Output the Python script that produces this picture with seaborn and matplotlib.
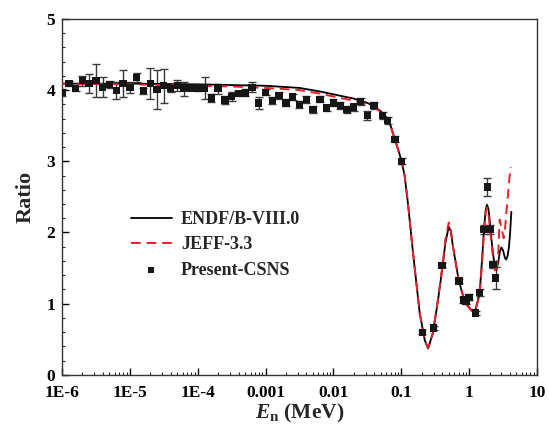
import numpy as np
import pandas as pd
import matplotlib
matplotlib.use("Agg")
import matplotlib.pyplot as plt
import seaborn as sns
from matplotlib.ticker import LogLocator, MultipleLocator, NullFormatter

# ---------------- data ----------------
endf_logE = [-6.0, -5.0, -4.0, -3.5, -3.0, -2.5, -2.2, -1.9, -1.7, -1.5, -1.4, -1.3,
             -1.2, -1.15, -1.1, -1.05, -1.0, -0.95, -0.9, -0.826, -0.728, -0.654,
             -0.605, -0.532, -0.458, -0.384, -0.35, -0.30, -0.27, -0.237, -0.153,
             -0.065, 0.034, 0.083, 0.156, 0.19, 0.219, 0.245, 0.264, 0.285, 0.303,
             0.33, 0.352, 0.38, 0.402, 0.43, 0.455, 0.476, 0.50, 0.53, 0.549, 0.57,
             0.588, 0.605, 0.623]
endf_ratio = [4.09, 4.09, 4.08, 4.07, 4.06, 4.03, 3.98, 3.92, 3.88, 3.82, 3.77, 3.70,
              3.60, 3.48, 3.33, 3.18, 3.02, 2.80, 2.40, 1.71, 0.87, 0.49,
              0.37, 0.59, 1.05, 1.57, 1.85, 2.08, 2.02, 1.80, 1.33,
              1.03, 0.91, 0.87, 1.15, 1.60, 2.04, 2.32, 2.39, 2.33, 2.18,
              1.90, 1.71, 1.52, 1.47, 1.58, 1.74, 1.79, 1.75, 1.64, 1.62, 1.68,
              1.80, 2.00, 2.29]

jeff_logE = [-6.0, -5.0, -4.0, -3.5, -3.0, -2.5, -2.2, -1.9, -1.7, -1.5, -1.4, -1.3,
             -1.2, -1.15, -1.1, -1.05, -1.0, -0.95, -0.9, -0.826, -0.728, -0.654,
             -0.605, -0.532, -0.458, -0.384, -0.35, -0.30, -0.27, -0.237, -0.153,
             -0.065, 0.034, 0.083, 0.156, 0.19, 0.219, 0.245, 0.264, 0.285, 0.303,
             0.33, 0.352, 0.38, 0.40, 0.43, 0.451, 0.48, 0.51, 0.53, 0.549, 0.58,
             0.608, 0.615]
jeff_ratio = [4.09, 4.08, 4.06, 4.05, 4.03, 4.00, 3.95, 3.89, 3.85, 3.80, 3.76, 3.69,
              3.59, 3.47, 3.32, 3.17, 3.01, 2.80, 2.40, 1.71, 0.87, 0.49,
              0.38, 0.60, 1.07, 1.60, 1.90, 2.14, 2.05, 1.80, 1.33,
              1.02, 0.90, 0.88, 1.12, 1.55, 2.00, 2.28, 2.35, 2.26, 2.10,
              1.85, 1.65, 1.47, 1.43, 1.70, 2.18, 2.05, 1.92, 2.05, 2.27, 2.60,
              2.90, 2.92]

csns_E = [1.0e-6, 1.26e-6, 1.58e-6, 2.0e-6, 2.51e-6, 3.16e-6, 3.98e-6, 5.01e-6,
          6.31e-6, 7.94e-6, 1.0e-5, 1.26e-5, 1.58e-5, 2.0e-5, 2.51e-5, 3.16e-5,
          3.98e-5, 5.01e-5, 6.31e-5, 7.94e-5, 1.0e-4, 1.26e-4, 1.58e-4, 2.0e-4,
          2.51e-4, 3.16e-4, 3.98e-4, 5.01e-4, 6.31e-4, 7.94e-4, 1.0e-3, 1.26e-3,
          1.58e-3, 2.0e-3, 2.51e-3, 3.16e-3, 3.98e-3, 5.01e-3, 6.31e-3, 7.94e-3,
          1.0e-2, 1.26e-2, 1.58e-2, 2.0e-2, 2.51e-2, 3.16e-2, 3.98e-2,
          0.053, 0.063, 0.081, 0.102, 0.205, 0.30, 0.40, 0.71, 0.82, 0.90, 1.0,
          1.25, 1.43, 1.66, 1.86, 2.06, 2.25, 2.47]
csns_ratio = [3.97, 4.09, 4.02, 4.13, 4.09, 4.13, 4.04, 4.08, 3.99, 4.09, 4.04, 4.18,
              3.99, 4.09, 4.01, 4.06, 4.02, 4.06, 4.02, 4.03, 4.03, 4.03, 3.89, 4.02,
              3.86, 3.91, 3.95, 3.96, 4.04, 3.82, 3.97, 3.85, 3.92, 3.82, 3.90, 3.80,
              3.87, 3.73, 3.87, 3.75, 3.82, 3.78, 3.73, 3.76, 3.84, 3.64, 3.78,
              3.64, 3.57, 3.31, 3.00, 0.60, 0.66, 1.54, 1.32, 1.05, 1.03, 1.09,
              0.87, 1.16, 2.04, 2.64, 2.04, 1.55, 1.36]
csns_err = [0.05, 0.04, 0.04, 0.07, 0.13, 0.23, 0.14, 0.05, 0.12, 0.19, 0.08, 0.06,
            0.04, 0.22, 0.27, 0.24, 0.05, 0.08, 0.10, 0.03, 0.04, 0.15, 0.06, 0.07,
            0.06, 0.06, 0.04, 0.05, 0.07, 0.08, 0.04, 0.05, 0.05, 0.05, 0.04, 0.05,
            0.05, 0.05, 0.04, 0.04, 0.05, 0.05, 0.05, 0.05, 0.05, 0.06, 0.05,
            0.05, 0.05, 0.04, 0.04, 0.03, 0.03, 0.03, 0.03, 0.04, 0.04, 0.04,
            0.03, 0.05, 0.06, 0.13, 0.06, 0.05, 0.16]

xtick_vals = [1e-6, 1e-5, 1e-4, 1e-3, 1e-2, 1e-1, 1, 10]
xtick_labels = ["1E-6", "1E-5", "1E-4", "0.001", "0.01", "0.1", "1", "10"]
ytick_vals = [0, 1, 2, 3, 4, 5]
ytick_labels = ["0", "1", "2", "3", "4", "5"]

# ---------------- style ----------------
sns.set_theme(style="ticks")
plt.rcParams["font.family"] = ["Liberation Serif", "DejaVu Serif"]
plt.rcParams["font.weight"] = "bold"
plt.rcParams["mathtext.fontset"] = "custom"
plt.rcParams["mathtext.rm"] = "Liberation Serif:bold"
plt.rcParams["mathtext.it"] = "Liberation Serif:italic:bold"
plt.rcParams["mathtext.bf"] = "Liberation Serif:bold"

fig = plt.figure(figsize=(5.49, 4.28), dpi=100)
ax = fig.add_axes([0.113, 0.124, 0.865, 0.832])

df_endf = pd.DataFrame({"E": np.power(10.0, endf_logE), "ratio": endf_ratio})
df_jeff = pd.DataFrame({"E": np.power(10.0, jeff_logE), "ratio": jeff_ratio})
df_csns = pd.DataFrame({"E": csns_E, "ratio": csns_ratio, "err": csns_err})

ax.errorbar(df_csns["E"], df_csns["ratio"], yerr=df_csns["err"], fmt="none",
            ecolor="#3a3a3a", elinewidth=1.0, capsize=3, capthick=1.0, zorder=2)
sns.lineplot(data=df_endf, x="E", y="ratio", ax=ax, color="black", lw=1.3,
             label="ENDF/B-VIII.0", zorder=3, sort=False)
sns.lineplot(data=df_jeff, x="E", y="ratio", ax=ax, color="#e8202a", lw=1.4,
             dashes=False, label="JEFF-3.3", zorder=3, sort=False)
ax.lines[-1].set_dashes([5, 3])
sns.scatterplot(data=df_csns, x="E", y="ratio", ax=ax, marker="s", s=28,
                color="#161616", edgecolor="none", label="Present-CSNS", zorder=4)

ax.set_xscale("log")
ax.set_xlim(1e-6, 10)
ax.set_ylim(0, 5)
ax.set_xticks(xtick_vals)
ax.set_xticklabels(xtick_labels, fontweight="bold", fontsize=12.5)
ax.set_yticks(ytick_vals)
ax.set_yticklabels(ytick_labels, fontweight="bold", fontsize=12.5)
ax.xaxis.set_minor_locator(LogLocator(base=10, subs=np.arange(2, 10), numticks=20))
ax.xaxis.set_minor_formatter(NullFormatter())
ax.yaxis.set_minor_locator(MultipleLocator(0.2))
ax.tick_params(axis="both", which="major", direction="in", length=5, width=1,
               colors="black")
ax.tick_params(axis="x", which="major", pad=7)
ax.tick_params(axis="y", which="major", pad=5)
ax.tick_params(axis="both", which="minor", direction="in", length=2.5, width=0.8)
for sp in ax.spines.values():
    sp.set_visible(True)
    sp.set_linewidth(1.0)
    sp.set_color("#333333")

ax.set_xlabel(r"$E_\mathrm{n}$ (MeV)", fontsize=15.5, fontweight="bold", labelpad=1)
ax.set_ylabel("Ratio", fontsize=16, fontweight="bold", labelpad=8)

leg = ax.legend(loc="upper left", bbox_to_anchor=(0.11, 0.505), frameon=False,
                handlelength=2.3, handletextpad=0.5, labelspacing=0.45,
                prop={"family": "Liberation Serif", "weight": "bold", "size": 13})
leg.legend_handles[2].set_sizes([20])

fig.savefig("out.png", dpi=100)
